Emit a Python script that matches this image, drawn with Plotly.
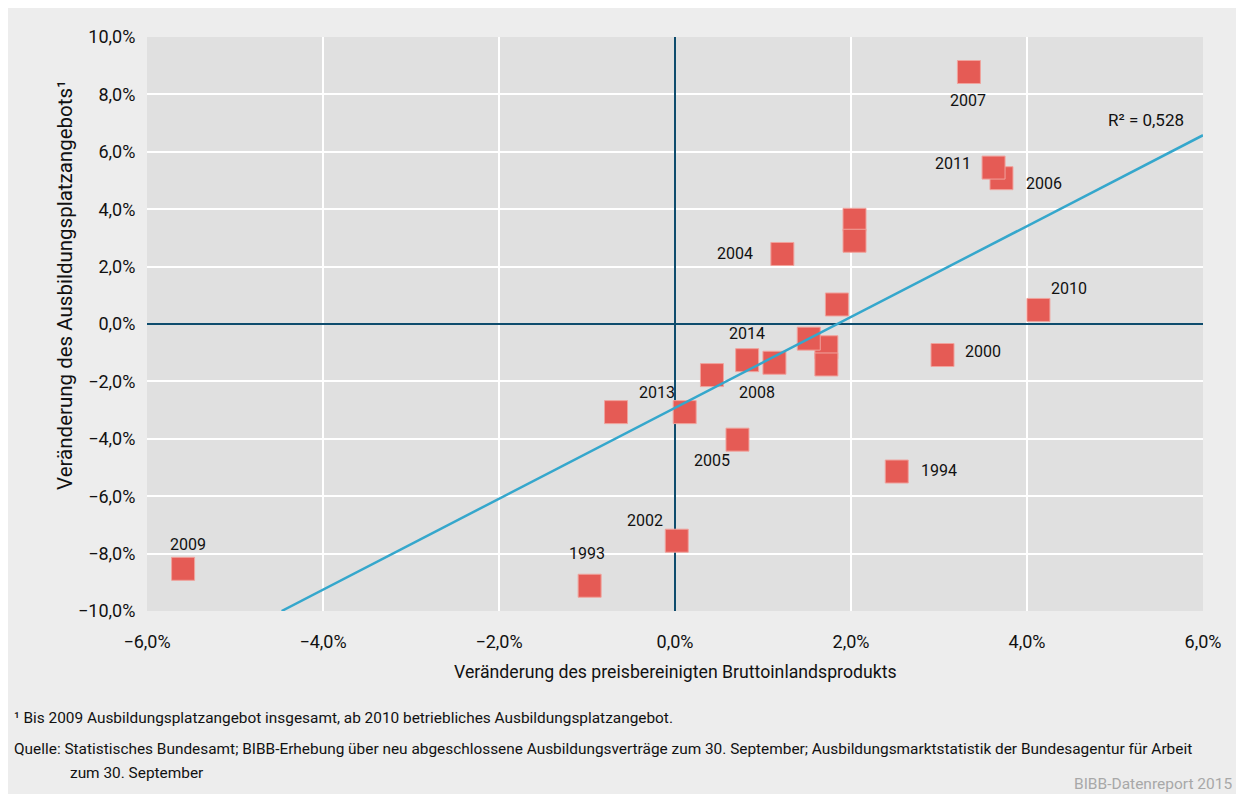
import numpy as np
import plotly.graph_objects as go

# data (change in % vs. previous year)
years = list(range(1993, 2015))
gdp_change = [-0.97, 2.52, 1.72, 1.52, 1.84, 2.04, 2.04, 3.04, 1.72, 0.02, -0.67,
              1.22, 0.71, 3.71, 3.34, 1.13, -5.59, 4.13, 3.62, 0.42, 0.11, 0.82]
offer_change = [-9.12, -5.14, -0.81, -0.51, 0.68, 3.63, 2.90, -1.08, -1.41, -7.55, -3.07,
                2.44, -4.03, 5.08, 8.78, -1.35, -8.53, 0.49, 5.45, -1.78, -3.07, -1.26]
labelled_years = [1993, 1994, 2000, 2002, 2004, 2005, 2006, 2007, 2008, 2009, 2010, 2011, 2013, 2014]
r2_text = "R² = 0,528"

x_ticks = [-6, -4, -2, 0, 2, 4, 6]
x_tick_labels = ["−6,0%", "−4,0%", "−2,0%", "0,0%", "2,0%", "4,0%", "6,0%"]
y_ticks = [-10, -8, -6, -4, -2, 0, 2, 4, 6, 8, 10]
y_tick_labels = ["−10,0%", "−8,0%", "−6,0%", "−4,0%", "−2,0%", "0,0%",
                 "2,0%", "4,0%", "6,0%", "8,0%", "10,0%"]

# label placement in pixels relative to the square (dx, dy; dy up)
label_shift = {
    1993: (-3, 32), 1994: (42, 1), 2000: (40, 4), 2002: (-32, 20),
    2004: (-47, 0), 2005: (-25, -21), 2006: (43, -5), 2007: (-1, -28),
    2008: (-17, -30), 2009: (5, 24), 2010: (31, 21), 2011: (-41, 4),
    2013: (-28, 20), 2014: (0, 27),
}

FONT = "Roboto, Arial, sans-serif"
RED = "#e55b55"
LINE = "#35a7cc"
ZERO = "#0e4c6d"
INK = "#111"

# linear trend
slope, intercept = np.polyfit(gdp_change, offer_change, 1)
x0 = (-10 - intercept) / slope
trend_x = [x0, 6]
trend_y = [slope * x + intercept for x in trend_x]

fig = go.Figure()
fig.add_trace(go.Scatter(
    x=gdp_change, y=offer_change, mode="markers",
    marker=dict(symbol="square", size=23, color=RED,
                line=dict(color="#f0a39d", width=1)),
    hoverinfo="skip", showlegend=False,
))
fig.add_trace(go.Scatter(
    x=trend_x, y=trend_y, mode="lines",
    line=dict(color=LINE, width=2.5),
    hoverinfo="skip", showlegend=False,
))

annotations = []
for yr, gx, oy in zip(years, gdp_change, offer_change):
    if yr not in labelled_years:
        continue
    dx, dy = label_shift[yr]
    annotations.append(dict(x=gx, y=oy, text=str(yr), showarrow=False,
                            xanchor="center", yanchor="middle",
                            xshift=dx, yshift=dy, font=dict(size=16, color=INK)))

annotations.append(dict(x=5.35, y=7.1, text=r2_text, showarrow=False,
                        xanchor="center", yanchor="middle",
                        font=dict(size=17, color=INK)))

# axis titles and notes
note = dict(xref="paper", yref="paper", showarrow=False, yanchor="middle")
annotations += [
    dict(note, x=-0.0777, y=0.568, xanchor="center", textangle=-90,
         text="Veränderung des Ausbildungsplatzangebots¹", font=dict(size=20.5, color=INK)),
    dict(note, x=0.5, y=-0.106, xanchor="center",
         text="Veränderung des preisbereinigten Bruttoinlandsprodukts", font=dict(size=17.7, color=INK)),
    dict(note, x=-0.1278, y=-0.1864, xanchor="left",
         text="¹ Bis 2009 Ausbildungsplatzangebot insgesamt, ab 2010 betriebliches Ausbildungsplatzangebot.",
         font=dict(size=15.4, color=INK)),
    dict(note, x=-0.1278, y=-0.2404, xanchor="left",
         text="Quelle: Statistisches Bundesamt; BIBB-Erhebung über neu abgeschlossene Ausbildungsverträge "
              "zum 30. September; Ausbildungsmarktstatistik der Bundesagentur für Arbeit",
         font=dict(size=15.4, color=INK)),
    dict(note, x=-0.0748, y=-0.2822, xanchor="left",
         text="zum 30. September", font=dict(size=15.4, color=INK)),
    dict(note, x=1.0294, y=-0.3014, xanchor="right",
         text="BIBB-Datenreport 2015", font=dict(size=15.5, color="#a8a8a8")),
]

axis_style = dict(showgrid=True, gridcolor="white", gridwidth=2,
                  zeroline=True, zerolinecolor=ZERO, zerolinewidth=2,
                  tickcolor="rgba(0,0,0,0)", ticks="outside",
                  showline=False, fixedrange=True, tickfont=dict(size=18, color=INK))

fig.update_layout(
    width=1244, height=794,
    margin=dict(l=139, r=49, t=29, b=191),
    paper_bgcolor="#ededed", plot_bgcolor="#e0e0e0",
    font=dict(family=FONT, size=17, color=INK),
    annotations=annotations,
    xaxis=dict(axis_style, range=[-6, 6], tickvals=x_ticks, ticktext=x_tick_labels, ticklen=14),
    yaxis=dict(axis_style, range=[-10, 10], tickvals=y_ticks, ticktext=y_tick_labels, ticklen=7),
)

fig.write_html("out.html")
